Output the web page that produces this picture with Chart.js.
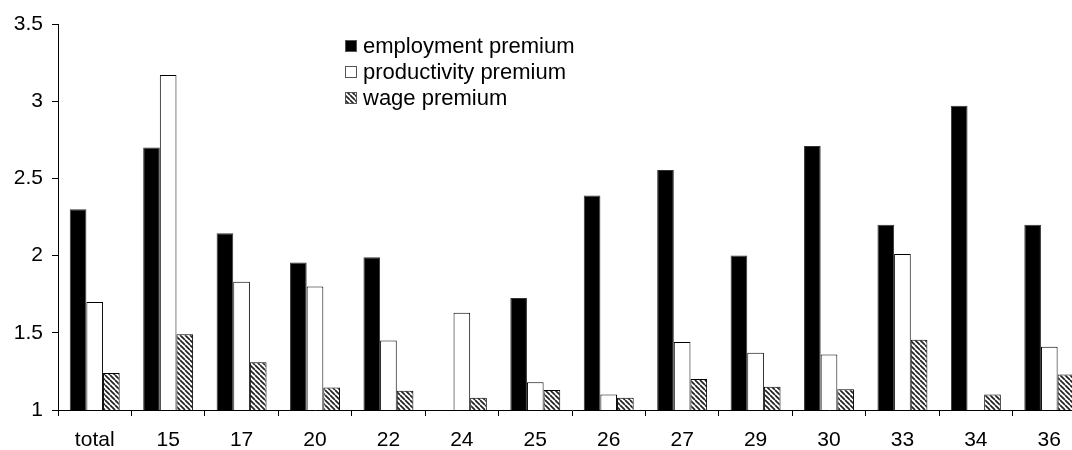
<!DOCTYPE html>
<html>
<head>
<meta charset="utf-8">
<script src="https://cdn.jsdelivr.net/npm/chart.js@4/dist/chart.umd.min.js"></script>
<style>
  html, body { margin: 0; padding: 0; background: #fff; overflow: hidden; }
  #wrap { width: 1090px; height: 450px; }
</style>
</head>
<body>
<div id="wrap"><canvas id="myChart"></canvas></div>
<script>
let categories = ['total', '15', '17', '20', '22', '24', '25', '26', '27', '29', '30', '33', '34', '36'];
let employment = [2.30, 2.70, 2.145, 1.955, 1.99, null, 1.725, 2.39, 2.555, 2.00, 2.71, 2.20, 2.97, 2.20];
let productivity = [1.70, 3.17, 1.83, 1.80, 1.45, 1.63, 1.18, 1.10, 1.44, 1.37, 1.36, 2.01, null, 1.41];
let wage = [1.24, 1.49, 1.31, 1.145, 1.125, 1.08, 1.13, 1.08, 1.20, 1.15, 1.135, 1.455, 1.10, 1.23];
let yTicks = [1, 1.5, 2, 2.5, 3, 3.5];

let font = "Arial, 'Liberation Sans', sans-serif";

// diagonal hatch like the excel pattern
let makeHatch = () => {
    let s = 5;
    let c = document.createElement('canvas');
    c.width = s;
    c.height = s;
    let g = c.getContext('2d');
    g.fillStyle = '#fff';
    g.fillRect(0, 0, s, s);
    g.strokeStyle = '#222';
    g.lineWidth = 1.7;
    [-s, 0, s].forEach(k => {
        g.beginPath();
        g.moveTo(k, 0);
        g.lineTo(k + s, s);
        g.stroke();
    });
    return g.createPattern(c, 'repeat');
}

let ctx = document.getElementById('myChart').getContext('2d');
let hatch = makeHatch();

let legendPlugin = {
    id: 'boxLegend',
    afterDraw(chart) {
        let c = chart.ctx;
        c.save();
        c.font = '22px ' + font;
        c.textBaseline = 'middle';
        c.textAlign = 'left';
        chart.data.datasets.forEach((ds, i) => {
            let y = 46 + i * 26;
            c.fillStyle = ds.backgroundColor;
            c.fillRect(345, y - 6, 12, 12);
            c.strokeStyle = '#555';
            c.lineWidth = 1;
            c.strokeRect(345.5, y - 5.5, 11, 11);
            c.fillStyle = '#000';
            c.fillText(ds.label, 363, y + 1);
        });
        c.restore();
    }
}

let myChart = new Chart(ctx, {
    type: 'bar',
    data: {
        labels: categories,
        datasets: [
            { label: 'employment premium', data: employment, backgroundColor: '#000', borderColor: '#333', borderWidth: 1 },
            { label: 'productivity premium', data: productivity, backgroundColor: '#fff', borderColor: '#000', borderWidth: 1 },
            { label: 'wage premium', data: wage, backgroundColor: hatch, borderColor: '#000', borderWidth: 1 }
        ]
    },
    options: {
        responsive: true,
        maintainAspectRatio: false,
        animation: false,
        devicePixelRatio: 1,
        layout: { padding: { top: 24, right: 4, bottom: 0, left: 0 } },
        datasets: { bar: { categoryPercentage: 0.68, barPercentage: 1 } },
        plugins: { legend: { display: false }, tooltip: { enabled: false } },
        scales: {
            x: {
                grid: { drawOnChartArea: false, color: '#000', tickLength: 6, offset: true },
                border: { color: '#000', width: 1 },
                ticks: { color: '#000', font: { family: font, size: 21 }, padding: 12 },
                afterFit: (scale) => { scale.height = 40; }
            },
            y: {
                min: 1,
                max: 3.5,
                grid: { drawOnChartArea: false, color: '#000', tickLength: 6 },
                border: { color: '#000', width: 1 },
                afterBuildTicks: (scale) => { scale.ticks = yTicks.map(v => ({ value: v })); },
                ticks: { color: '#000', font: { family: font, size: 21 }, padding: 9, callback: (v) => String(v) },
                afterFit: (scale) => { scale.width = 58; }
            }
        }
    },
    plugins: [legendPlugin]
})
</script>
</body>
</html>
